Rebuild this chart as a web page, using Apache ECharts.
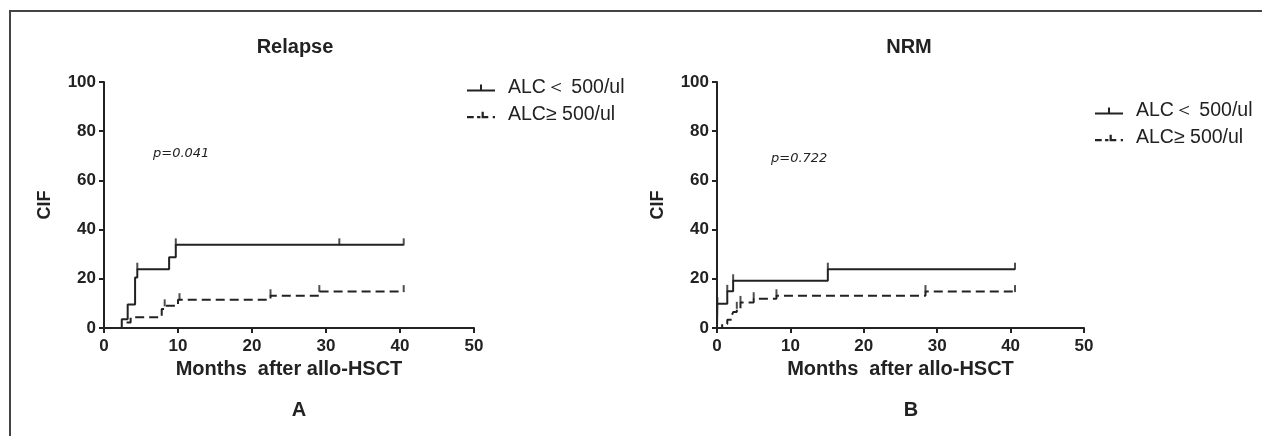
<!DOCTYPE html>
<html>
<head>
<meta charset="utf-8">
<script src="https://cdn.jsdelivr.net/npm/echarts@6/dist/echarts.min.js"></script>
<style>
  html, body { margin: 0; padding: 0; background: #fff; }
  #charts { width: 1262px; height: 436px; }
</style>
</head>
<body>
<div id="charts"></div>
<script>
// legend names
var nameLow = "ALC\uFF1C 500/ul";
var nameHigh = "ALC\u2265 500/ul";

// Relapse, ALC < 500
var relLowT = [0, 2.4, 3.2, 4.2, 4.5, 8.8, 9.7, 40.5];
var relLowV = [0, 3.6, 9.6, 20.5, 23.9, 28.8, 33.8, 33.8];
var relLowCensT = [4.5, 9.7, 31.8, 40.5];
var relLowCensV = [23.9, 33.8, 33.8, 33.8];
// Relapse, ALC >= 500
var relHighT = [0, 3.0, 3.6, 7.8, 8.2, 10.0, 22.5, 29.1, 40.5];
var relHighV = [0, 2.2, 4.4, 7.7, 9.0, 11.5, 13.1, 14.8, 14.8];
var relHighCensT = [8.2, 10.2, 22.5, 29.1, 40.5];
var relHighCensV = [9.0, 11.5, 13.1, 14.8, 14.8];

// NRM, ALC < 500
var nrmLowT = [0, 0.05, 1.4, 2.2, 15.1, 40.6];
var nrmLowV = [0, 9.9, 14.9, 19.2, 23.9, 23.9];
var nrmLowCensT = [0.05, 1.4, 2.2, 15.1, 40.6];
var nrmLowCensV = [9.9, 14.9, 19.2, 23.9, 23.9];
// NRM, ALC >= 500
var nrmHighT = [0, 0.7, 1.4, 2.0, 2.2, 2.7, 3.2, 5.0, 8.1, 28.4, 40.6];
var nrmHighV = [0, 1.6, 3.4, 5.0, 6.5, 8.0, 10.4, 11.9, 13.1, 14.8, 14.8];
var nrmHighCensT = [2.7, 3.2, 5.0, 8.1, 28.4, 40.6];
var nrmHighCensV = [8.0, 10.4, 11.9, 13.1, 14.8, 14.8];

function pairs(t, v) {
  return t.map(function (x, i) { return [x, v[i]]; });
}

var ink = "#222";
var font = "Liberation Sans, Arial, sans-serif";

// legend icons: line with a censor tick (solid / dashed)
var iconSolid = "path://M0,7L28,7L28,9L0,9Z M13,2L15,2L15,9L13,9Z";
var iconDashed = "path://M0,7L6,7L6,9L0,9Z M9,7L12,7L12,9L9,9Z M13,3L15,3L15,9L13,9Z M15,7L19,7L19,9L15,9Z M23,7L25,7L25,9L23,9Z";

function xAxisFor(idx) {
  return {
    type: "value", gridIndex: idx, min: 0, max: 50, interval: 10,
    name: "Months  after allo-HSCT", nameLocation: "middle", nameGap: 30,
    nameTextStyle: { fontFamily: font, fontWeight: "bold", fontSize: 20, color: ink },
    axisLine: { show: true, lineStyle: { color: ink, width: 2 } },
    axisTick: { show: true, length: 5, lineStyle: { color: ink, width: 2 } },
    axisLabel: { fontFamily: font, fontWeight: "bold", fontSize: 17, color: ink, margin: 10 },
    splitLine: { show: false }
  };
}
function yAxisFor(idx) {
  return {
    type: "value", gridIndex: idx, min: 0, max: 100, interval: 20,
    name: "CIF", nameLocation: "middle", nameGap: 50, nameRotate: 90,
    nameTextStyle: { fontFamily: font, fontWeight: "bold", fontSize: 18, color: ink },
    axisLine: { show: true, lineStyle: { color: ink, width: 2 } },
    axisTick: { show: true, length: 5, lineStyle: { color: ink, width: 2 } },
    axisLabel: { fontFamily: font, fontWeight: "bold", fontSize: 17, color: ink, margin: 8 },
    splitLine: { show: false }
  };
}
function stepSeries(name, idx, data, dashed) {
  return {
    name: name, type: "line", step: "end", xAxisIndex: idx, yAxisIndex: idx,
    data: data, symbol: "none", animation: false,
    lineStyle: { color: ink, width: 2, type: dashed ? [9, 5] : "solid" },
    itemStyle: { color: ink }
  };
}
function censSeries(idx, data) {
  return {
    type: "scatter", xAxisIndex: idx, yAxisIndex: idx, data: data,
    symbol: "rect", symbolSize: [2, 7], symbolOffset: [0, -3],
    itemStyle: { color: ink }, animation: false, silent: true
  };
}
function legendFor(left, top) {
  return {
    orient: "vertical", left: left, top: top, itemWidth: 28, itemHeight: 9, itemGap: 7,
    itemStyle: { color: ink }, lineStyle: { width: 0 },
    data: [{ name: nameLow, icon: iconSolid }, { name: nameHigh, icon: iconDashed }],
    textStyle: { fontFamily: font, fontSize: 19.5, color: ink, padding: [0, 0, 0, 8] }
  };
}
function label(text, x, y) {
  return { text: text, left: x, top: y, textAlign: "center",
    textStyle: { fontFamily: font, fontWeight: "bold", fontSize: 20, color: ink } };
}

var myChart = echarts.init(document.getElementById("charts"));
myChart.setOption({
  backgroundColor: "#fff",
  title: [
    label("Relapse", 290, 32),
    label("NRM", 904, 32),
    label("A", 294, 395),
    label("B", 906, 395)
  ],
  legend: [legendFor(462, 73), legendFor(1090, 96)],
  graphic: [
    { type: "polyline", silent: true,
      shape: { points: [[10, 440], [10, 11], [1270, 11]] },
      style: { stroke: "#444", lineWidth: 2, fill: null } },
    { type: "text", left: 153, top: 147,
      style: { text: "p=0.041", font: "italic 13px DejaVu Sans", fill: ink } },
    { type: "text", left: 771, top: 152,
      style: { text: "p=0.722", font: "italic 13px DejaVu Sans", fill: ink } }
  ],
  grid: [
    { left: 104, top: 82, width: 370, height: 246 },
    { left: 717, top: 82, width: 367, height: 246 }
  ],
  xAxis: [xAxisFor(0), xAxisFor(1)],
  yAxis: [yAxisFor(0), yAxisFor(1)],
  series: [
    stepSeries(nameLow, 0, pairs(relLowT, relLowV), false),
    stepSeries(nameHigh, 0, pairs(relHighT, relHighV), true),
    censSeries(0, pairs(relLowCensT, relLowCensV)),
    censSeries(0, pairs(relHighCensT, relHighCensV)),
    stepSeries(nameLow, 1, pairs(nrmLowT, nrmLowV), false),
    stepSeries(nameHigh, 1, pairs(nrmHighT, nrmHighV), true),
    censSeries(1, pairs(nrmLowCensT, nrmLowCensV)),
    censSeries(1, pairs(nrmHighCensT, nrmHighCensV))
  ]
});
</script>
</body>
</html>
